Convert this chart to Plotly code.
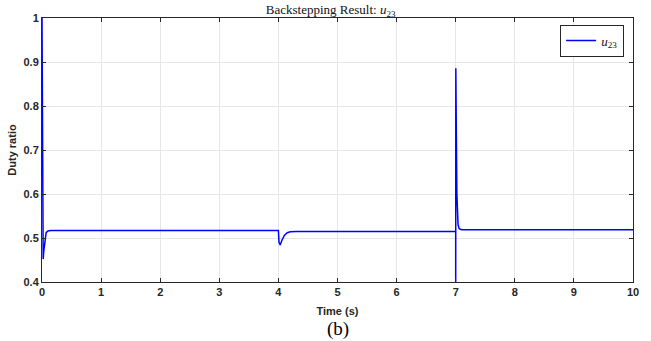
import plotly.graph_objects as go

# Time (s) and duty ratio u23
time_s = [0.0, 0.005, 0.012, 0.02, 0.03, 0.05, 0.07, 0.1, 0.15, 0.5,
          3.99, 4.0, 4.01, 4.03, 4.06, 4.1, 4.15, 4.2, 4.3,
          6.99, 7.0, 7.0, 7.002, 7.01, 7.02, 7.04, 7.06, 7.08, 7.1, 7.2, 10.0]
duty = [1.0, 0.62, 0.455, 0.452, 0.47, 0.5, 0.512, 0.516, 0.517, 0.517,
        0.517, 0.517, 0.49, 0.484, 0.495, 0.506, 0.512, 0.514, 0.515,
        0.515, 0.515, 0.35, 0.886, 0.75, 0.6, 0.53, 0.521, 0.519, 0.519, 0.519, 0.519]

x_ticks = list(range(0, 11))
y_ticks = [0.4, 0.5, 0.6, 0.7, 0.8, 0.9, 1.0]
y_tick_text = ["0.4", "0.5", "0.6", "0.7", "0.8", "0.9", "1"]

fig = go.Figure()
fig.add_trace(go.Scatter(
    x=time_s, y=duty, mode="lines",
    line=dict(color="#0000ff", width=1.5),
    name="<i>u</i><sub>23</sub>", showlegend=True,
))

tick_font = dict(family="Liberation Sans", size=11, color="#262626", weight="bold")
axis_common = dict(
    showline=True, linecolor="#262626", linewidth=1, mirror="ticks",
    ticks="inside", ticklen=4, tickcolor="#262626",
    showgrid=True, gridcolor="#e6e6e6", gridwidth=1, zeroline=False,
    tickfont=tick_font,
)

fig.update_layout(
    width=651, height=341,
    margin=dict(l=42, r=14, t=17, b=59),
    paper_bgcolor="white", plot_bgcolor="white",
    title=dict(text="Backstepping Result: <i>u</i><sub>23</sub>",
               x=0.508, xanchor="center", y=0.985, yanchor="top",
               font=dict(family="Liberation Serif", size=13, color="#111111")),
    legend=dict(x=0.985, y=0.975, xanchor="right", yanchor="top",
                bgcolor="white", bordercolor="#262626", borderwidth=1,
                font=dict(family="Liberation Serif", size=13, color="#111111"),
                itemwidth=30, tracegroupgap=0),
    xaxis=dict(range=[0, 10], tickvals=x_ticks,
               title=dict(text="<b>Time (s)</b>", standoff=10,
                          font=dict(family="Liberation Sans", size=11, color="#262626")),
               **axis_common),
    yaxis=dict(range=[0.4, 1.0], tickvals=y_ticks, ticktext=y_tick_text,
               title=dict(text="<b>Duty ratio</b>", standoff=4,
                          font=dict(family="Liberation Sans", size=11, color="#262626")),
               **axis_common),
    annotations=[dict(text="(b)", xref="paper", yref="paper", x=0.5, y=-0.178,
                      xanchor="center", yanchor="middle", showarrow=False,
                      font=dict(family="Liberation Serif", size=19, color="black"))],
)

fig.write_html("out.html")
